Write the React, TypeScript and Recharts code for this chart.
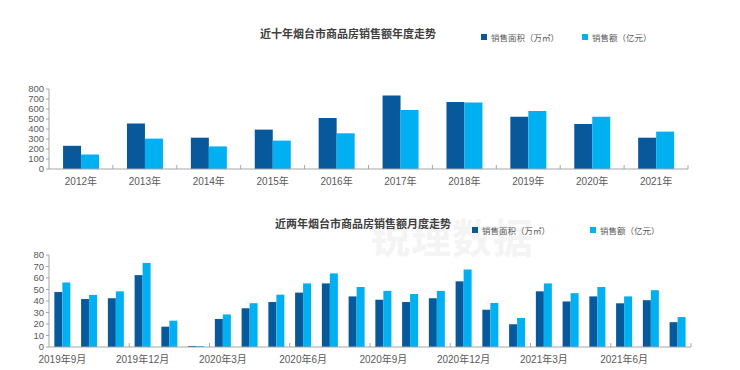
import React from "react";
import { BarChart, Bar, XAxis, YAxis, Legend } from "recharts";

const years = ["2012年", "2013年", "2014年", "2015年", "2016年", "2017年", "2018年", "2019年", "2020年", "2021年"];
const yearArea = [232, 455, 313, 394, 510, 736, 670, 522, 450, 313];
const yearAmount = [145, 304, 226, 284, 357, 591, 664, 580, 522, 374];
const yearTicks = [0, 100, 200, 300, 400, 500, 600, 700, 800];

const months = [
  "2019年9月", "2019年10月", "2019年11月", "2019年12月",
  "2020年1月", "2020年2月", "2020年3月", "2020年4月", "2020年5月", "2020年6月",
  "2020年7月", "2020年8月", "2020年9月", "2020年10月", "2020年11月", "2020年12月",
  "2021年1月", "2021年2月", "2021年3月", "2021年4月", "2021年5月", "2021年6月",
  "2021年7月", "2021年8月",
];
const monthArea = [47.8, 41.7, 42.4, 62.5, 17.7, 0.9, 24.4, 33.7, 39.1, 47.3, 55.3, 44.0, 41.1, 39.1, 42.4, 57.1, 32.4, 19.8, 48.4, 39.6, 44.0, 38.0, 40.7, 21.6];
const monthAmount = [56.1, 45.3, 48.4, 73.1, 22.9, 0.8, 28.3, 38.1, 45.5, 55.3, 64.0, 52.2, 48.8, 46.1, 48.8, 67.4, 38.3, 25.2, 55.3, 46.8, 52.2, 44.0, 49.4, 26.0];
const monthTicks = [0, 10, 20, 30, 40, 50, 60, 70, 80];

const seriesNames = ["销售面积（万㎡）", "销售额（亿元）"];

const DARK = "#07599b";
const LIGHT = "#00b0f0";
const AXIS = "#a6a6a6";
const TEXT = "#595959";
const FONT = '"Noto Sans CJK SC", "Liberation Sans", sans-serif';
const NUM_FONT = '"Liberation Sans", "Noto Sans CJK SC", sans-serif';

const yearData = years.map((name, i) => ({ name, area: yearArea[i], amount: yearAmount[i] }));
const monthData = months.map((name, i) => ({ name, area: monthArea[i], amount: monthAmount[i] }));

// x tick: label at band centre, small upward tick mark at band boundary
function makeTick(bandW: number, every: number, count: number) {
  return (props: any) => {
    const { x, y, index, payload } = props;
    const showLabel = index % every === 0;
    const left = x - bandW / 2;
    const right = x + bandW / 2;
    return (
      <g>
        {index > 0 && index % every === 0 && (
          <line x1={left} x2={left} y1={y - 4} y2={y} stroke={AXIS} />
        )}
        {index === count - 1 && <line x1={right} x2={right} y1={y - 4} y2={y} stroke={AXIS} />}
        {showLabel && (
          <text x={x} y={y + 16} textAnchor="middle" fontSize={10} fill={TEXT} fontFamily={NUM_FONT}>
            {payload.value}
          </text>
        )}
      </g>
    );
  };
}

function makeLegend(positions: number[], top: number) {
  return () => (
    <div style={{ position: "relative", height: 12 }}>
      {seriesNames.map((n, i) => (
        <div
          key={n}
          style={{
            position: "absolute",
            left: positions[i],
            top: top,
            display: "flex",
            alignItems: "center",
            fontSize: 8.5,
            lineHeight: "10px",
            color: TEXT,
            fontFamily: FONT,
            whiteSpace: "nowrap",
          }}
        >
          <span style={{ width: 6, height: 6, background: i === 0 ? DARK : LIGHT, marginRight: 4 }} />
          {n}
        </div>
      ))}
    </div>
  );
}

const titleStyle: React.CSSProperties = {
  position: "absolute",
  fontSize: 11,
  fontWeight: 700,
  lineHeight: "12px",
  color: "#404040",
  fontFamily: FONT,
  whiteSpace: "nowrap",
  transform: "translate(-50%, -50%)",
};

const yTick = { fontSize: 9.5, fill: TEXT, fontFamily: NUM_FONT };

export default function App() {
  return (
    <div style={{ position: "absolute", left: 0, top: 0, width: 740, height: 370, background: "#fff", overflow: "hidden" }}>
      <div
        style={{
          position: "absolute",
          left: 370,
          top: 214,
          fontSize: 40,
          lineHeight: "44px",
          fontWeight: 700,
          color: "#f4f4f4",
          fontFamily: FONT,
          letterSpacing: 1,
        }}
      >
        锐理数据
      </div>

      <div style={{ ...titleStyle, left: 348, top: 33 }}>近十年烟台市商品房销售额年度走势</div>
      <div style={{ position: "absolute", left: 0, top: 0 }}>
        <BarChart
          width={740}
          height={190}
          data={yearData}
          margin={{ top: 77, right: 52, left: 19, bottom: 1 }}
          barGap={0}
          barCategoryGap="22%"
        >
          <XAxis
            dataKey="name"
            height={20}
            interval={0}
            tickSize={0}
            tickMargin={0}
            tickLine={false}
            stroke={AXIS}
            tick={makeTick(63.9, 1, years.length)}
          />
          <YAxis
            width={30}
            domain={[0, 800]}
            ticks={yearTicks}
            interval={0}
            tickSize={3}
            tickMargin={2}
            stroke={AXIS}
            tick={yTick}
          />
          <Legend
            verticalAlign="top"
            wrapperStyle={{ position: "absolute", top: 0, left: 0, width: 740 }}
            content={makeLegend([481, 582], 32)}
          />
          <Bar dataKey="area" name={seriesNames[0]} fill={DARK} isAnimationActive={false} />
          <Bar dataKey="amount" name={seriesNames[1]} fill={LIGHT} isAnimationActive={false} />
        </BarChart>
      </div>

      <div style={{ ...titleStyle, left: 363, top: 223 }}>近两年烟台市商品房销售额月度走势</div>
      <div style={{ position: "absolute", left: 0, top: 200 }}>
        <BarChart
          width={740}
          height={170}
          data={monthData}
          margin={{ top: 43, right: 49, left: 19, bottom: 3 }}
          barGap={0}
          barCategoryGap="20%"
        >
          <XAxis
            dataKey="name"
            height={20}
            interval={0}
            tickSize={0}
            tickMargin={0}
            tickLine={false}
            stroke={AXIS}
            tick={makeTick(26.75, 3, months.length)}
          />
          <YAxis
            width={30}
            domain={[0, 80]}
            ticks={monthTicks}
            interval={0}
            tickSize={3}
            tickMargin={2}
            stroke={AXIS}
            tick={yTick}
          />
          <Legend
            verticalAlign="top"
            wrapperStyle={{ position: "absolute", top: 0, left: 0, width: 740 }}
            content={makeLegend([472, 590], 25)}
          />
          <Bar dataKey="area" name={seriesNames[0]} fill={DARK} isAnimationActive={false} />
          <Bar dataKey="amount" name={seriesNames[1]} fill={LIGHT} isAnimationActive={false} />
        </BarChart>
      </div>
    </div>
  );
}
